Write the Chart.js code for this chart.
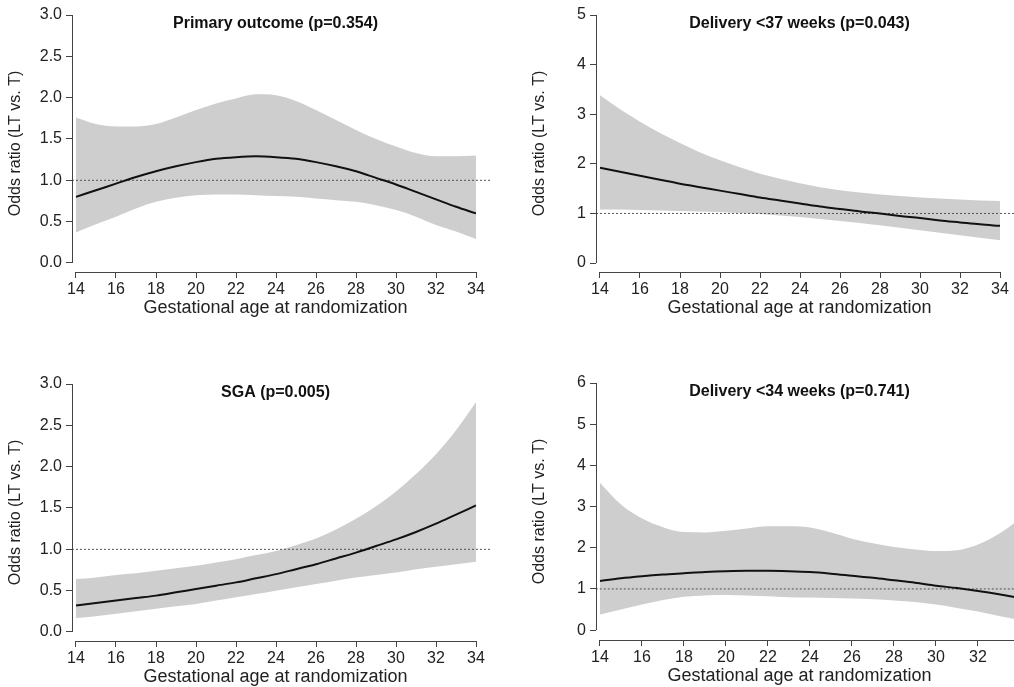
<!DOCTYPE html>
<html>
<head>
<meta charset="utf-8">
<script src="https://cdn.jsdelivr.net/npm/chart.js@4.4.1/dist/chart.umd.min.js"></script>
<style>
  html, body { margin: 0; padding: 0; background: #fff; overflow: hidden; }
  body { width: 1014px; height: 687px; position: relative; }
  canvas { position: absolute; }
</style>
</head>
<body>
<canvas id="primary" width="510" height="340" style="left:0;top:0"></canvas>
<canvas id="del37" width="510" height="340" style="left:524px;top:0"></canvas>
<canvas id="sga" width="510" height="340" style="left:0;top:369px"></canvas>
<canvas id="del34" width="510" height="340" style="left:524px;top:368px"></canvas>
<script>
// gestational age (weeks) at which the curves were read
const ages = [14, 15, 16, 17, 18, 19, 20, 21, 22, 23, 24, 25, 26, 27, 28, 29, 30, 31, 32, 33, 34];

// Primary outcome (p=0.354)
const primaryOR = [0.80, 0.88, 0.96, 1.04, 1.11, 1.17, 1.22, 1.26, 1.28, 1.29, 1.28, 1.26, 1.22, 1.17, 1.11, 1.03, 0.95, 0.86, 0.77, 0.68, 0.60];
const primaryUpper = [1.76, 1.68, 1.65, 1.65, 1.68, 1.76, 1.85, 1.93, 1.99, 2.04, 2.03, 1.96, 1.85, 1.73, 1.61, 1.50, 1.41, 1.33, 1.29, 1.29, 1.30];
const primaryLower = [0.37, 0.47, 0.56, 0.66, 0.74, 0.79, 0.82, 0.83, 0.83, 0.82, 0.81, 0.80, 0.78, 0.76, 0.74, 0.70, 0.64, 0.56, 0.46, 0.38, 0.29];

// Delivery <37 weeks (p=0.043)
const del37OR = [1.92, 1.84, 1.76, 1.68, 1.60, 1.53, 1.46, 1.39, 1.32, 1.26, 1.20, 1.14, 1.09, 1.04, 1.00, 0.95, 0.91, 0.86, 0.82, 0.78, 0.75];
const del37Upper = [3.38, 3.10, 2.85, 2.62, 2.42, 2.23, 2.07, 1.93, 1.80, 1.70, 1.61, 1.53, 1.47, 1.42, 1.38, 1.35, 1.32, 1.30, 1.28, 1.26, 1.25];
const del37Lower = [1.08, 1.08, 1.07, 1.06, 1.05, 1.04, 1.03, 1.01, 0.99, 0.96, 0.93, 0.89, 0.85, 0.81, 0.76, 0.71, 0.66, 0.61, 0.56, 0.51, 0.46];

// SGA (p=0.005)
const sgaOR = [0.32, 0.35, 0.38, 0.41, 0.44, 0.48, 0.52, 0.56, 0.60, 0.65, 0.70, 0.76, 0.82, 0.89, 0.96, 1.04, 1.12, 1.21, 1.31, 1.42, 1.53];
const sgaUpper = [0.64, 0.66, 0.69, 0.71, 0.74, 0.77, 0.80, 0.84, 0.88, 0.93, 0.98, 1.05, 1.13, 1.24, 1.37, 1.52, 1.70, 1.91, 2.15, 2.44, 2.78];
const sgaLower = [0.17, 0.19, 0.22, 0.25, 0.28, 0.31, 0.34, 0.38, 0.42, 0.46, 0.50, 0.54, 0.58, 0.62, 0.66, 0.69, 0.72, 0.76, 0.79, 0.82, 0.85];

// Delivery <34 weeks (p=0.741)
const del34OR = [1.19, 1.26, 1.31, 1.35, 1.38, 1.41, 1.43, 1.44, 1.44, 1.43, 1.41, 1.37, 1.32, 1.27, 1.21, 1.15, 1.08, 1.02, 0.95, 0.87, 0.78];
const del34Upper = [3.58, 3.05, 2.71, 2.50, 2.38, 2.37, 2.41, 2.47, 2.52, 2.52, 2.49, 2.37, 2.22, 2.11, 2.02, 1.96, 1.92, 1.94, 2.08, 2.34, 2.70];
const del34Lower = [0.38, 0.50, 0.62, 0.73, 0.81, 0.84, 0.85, 0.84, 0.82, 0.80, 0.79, 0.78, 0.77, 0.75, 0.72, 0.68, 0.62, 0.54, 0.45, 0.34, 0.24];

const xTicks = [14, 16, 18, 20, 22, 24, 26, 28, 30, 32, 34];
const refLine = [13.8, 34.8]; // OR = 1 reference, start/end in weeks
const xTitle = "Gestational age at randomization";

const FONT = "'Liberation Sans', Arial, Helvetica, sans-serif";
const INK = "#222";

function pts(ys) {
  return ages.map((a, i) => ({ x: a, y: ys[i] }));
}

// R-style axis lines: only from first to last tick
const axisLines = {
  id: "axisLines",
  afterDraw(chart) {
    const { ctx, scales: { x, y } } = chart;
    const yt = y.ticks;
    ctx.save();
    ctx.strokeStyle = "#444";
    ctx.lineWidth = 1;
    ctx.beginPath();
    const ax = Math.round(chart.chartArea.left) + 0.5;
    ctx.moveTo(ax, y.getPixelForValue(yt[0].value));
    ctx.lineTo(ax, y.getPixelForValue(yt[yt.length - 1].value));
    const ay = Math.round(chart.chartArea.bottom) + 0.5;
    ctx.moveTo(x.getPixelForValue(xTicks[0]), ay);
    ctx.lineTo(x.getPixelForValue(xTicks[xTicks.length - 1]), ay);
    ctx.stroke();
    ctx.restore();
  }
};

// panel heading inside the plot, and the x axis title under it
const panelText = {
  id: "panelText",
  afterDraw(chart, args, opts) {
    const { ctx, chartArea } = chart;
    const cx = 275.5;
    ctx.save();
    ctx.textAlign = "center";
    ctx.textBaseline = "middle";
    ctx.font = "bold 16px " + FONT;
    ctx.fillStyle = "#111";
    ctx.fillText(opts.text, cx, chartArea.top + 9);
    ctx.font = "18px " + FONT;
    ctx.fillStyle = INK;
    ctx.fillText(xTitle, cx, chartArea.bottom + 36);
    ctx.restore();
  }
};

function makePanel(id, title, est, upper, lower, yMin, yMax, yStep, decimals, padRight) {
  const cropped = padRight === 14; // bottom-right panel runs off the page edge
  const x0 = cropped ? 13.81 : 13.8;
  new Chart(document.getElementById(id), {
    type: "line",
    data: {
      datasets: [
        {
          data: pts(est),
          borderColor: "#111",
          borderWidth: 2,
          pointRadius: 0,
          cubicInterpolationMode: "monotone",
          fill: false,
          order: 0
        },
        {
          data: refLine.map((v) => ({ x: v, y: 1 })),
          borderColor: "#555",
          borderWidth: 1,
          borderDash: [2, 2],
          pointRadius: 0,
          fill: false,
          clip: false,
          order: 1
        },
        {
          data: pts(upper),
          borderWidth: 0,
          borderColor: "rgba(0,0,0,0)",
          backgroundColor: "#cecece",
          pointRadius: 0,
          cubicInterpolationMode: "monotone",
          fill: "+1",
          order: 2
        },
        {
          data: pts(lower),
          borderWidth: 0,
          borderColor: "rgba(0,0,0,0)",
          pointRadius: 0,
          cubicInterpolationMode: "monotone",
          fill: false,
          order: 3
        }
      ]
    },
    options: {
      responsive: false,
      animation: false,
      devicePixelRatio: 1,
      layout: { padding: { top: 15, right: padRight, bottom: 0, left: 0 } },
      plugins: {
        legend: { display: false },
        tooltip: { enabled: false },
        panelText: { text: title }
      },
      scales: {
        x: {
          type: "linear",
          min: x0,
          max: 34,
          afterFit: (s) => { s.height = 68; },
          afterBuildTicks: (s) => { s.ticks = xTicks.map((v) => ({ value: v })); },
          border: { display: false },
          grid: { drawOnChartArea: false, drawTicks: true, tickLength: 6, color: "#444" },
          ticks: {
            color: INK,
            font: { family: FONT, size: 16 },
            padding: 2,
            maxRotation: 0,
            autoSkip: false,
            callback: (v) => (cropped && v === 34 ? "" : String(v))
          }
        },
        y: {
          min: yMin,
          max: yMax,
          afterFit: (s) => { s.width = 72; },
          border: { display: false },
          grid: { drawOnChartArea: false, drawTicks: true, tickLength: 6, color: "#444" },
          ticks: {
            stepSize: yStep,
            includeBounds: false,
            color: INK,
            font: { family: FONT, size: 16 },
            padding: 4,
            callback: (v) => v.toFixed(decimals)
          },
          title: {
            display: true,
            text: "Odds ratio (LT vs. T)",
            color: INK,
            font: { family: FONT, size: 16 },
            padding: { top: 6, bottom: 0 }
          }
        }
      }
    },
    plugins: [axisLines, panelText]
  });
}

makePanel("primary", "Primary outcome (p=0.354)", primaryOR, primaryUpper, primaryLower, -0.109, 3, 0.5, 1, 34);
makePanel("del37", "Delivery <37 weeks (p=0.043)", del37OR, del37Upper, del37Lower, -0.18, 5, 1, 0, 34);
makePanel("sga", "SGA (p=0.005)", sgaOR, sgaUpper, sgaLower, -0.109, 3, 0.5, 1, 34);
makePanel("del34", "Delivery <34 weeks (p=0.741)", del34OR, del34Upper, del34Lower, -0.24, 6, 1, 0, 14);
</script>
</body>
</html>
